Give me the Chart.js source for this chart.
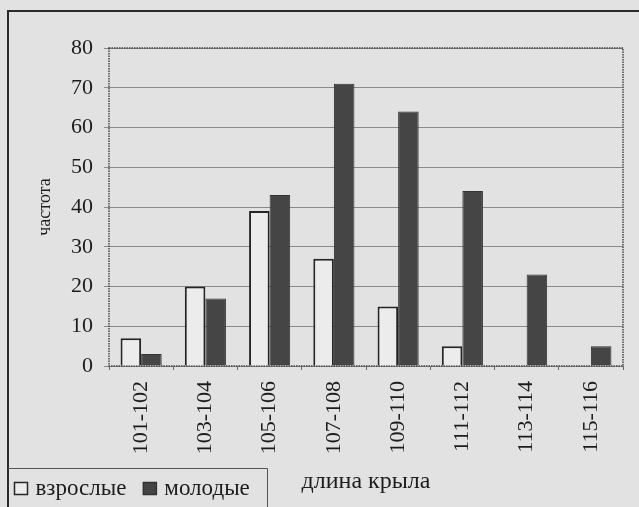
<!DOCTYPE html>
<html>
<head>
<meta charset="utf-8">
<script src="https://cdn.jsdelivr.net/npm/chart.js@4.4.0/dist/chart.umd.min.js"></script>
<style>
    html, body { margin: 0; padding: 0; background: #e2e2e2; }
    #wingChart { display: block; }
</style>
</head>
<body>
<canvas id="wingChart" width="639" height="507"></canvas>
<script>
// wing length classes and counts
const wingLengths = ['101-102', '103-104', '105-106', '107-108', '109-110', '111-112', '113-114', '115-116'];
const adultCounts = [7, 20, 39, 27, 15, 5, 0, 0];
const youngCounts = [3, 17, 43, 71, 64, 44, 23, 5];
const seriesNames = ['взрослые', 'молодые'];
const yTitle = 'частота';
const xTitle = 'длина крыла';

const paperColor = '#e2e2e2';
const textColor = '#1c1c1c';
const serif = '"Liberation Serif", "DejaVu Serif", serif';

// background, outer frame, dotted plot border and the boxed legend
const paperPlugin = {
    id: 'paper',
    beforeDraw(chart) {
        const c = chart.ctx;
        c.save();
        c.fillStyle = paperColor;
        c.fillRect(0, 0, chart.width, chart.height);
        c.strokeStyle = '#2a2a2a';
        c.lineWidth = 2;
        c.beginPath();
        c.moveTo(8, chart.height);
        c.lineTo(8, 11);
        c.lineTo(chart.width, 11);
        c.stroke();
        c.restore();
    },
    beforeDatasetsDraw(chart) {
        const a = chart.chartArea;
        const c = chart.ctx;
        c.save();
        c.strokeStyle = '#444';
        c.lineWidth = 1.5;
        c.setLineDash([1.5, 1]);
        c.strokeRect(a.left, a.top, a.right - a.left, a.bottom - a.top);
        c.restore();
    },
    afterDraw(chart) {
        const c = chart.ctx;
        c.save();
        // legend box
        c.strokeStyle = '#555';
        c.lineWidth = 1;
        c.beginPath();
        c.moveTo(8, 468.5);
        c.lineTo(267.5, 468.5);
        c.lineTo(267.5, chart.height);
        c.stroke();

        c.font = '23px ' + serif;
        c.textBaseline = 'alphabetic';
        let x = 14.5;
        const y = 482.5;
        chart.data.datasets.forEach((ds) => {
            c.fillStyle = ds.backgroundColor;
            c.fillRect(x, y, 13, 12);
            c.strokeStyle = ds.borderColor;
            c.lineWidth = 1.5;
            c.strokeRect(x, y, 13, 12);
            c.fillStyle = textColor;
            c.fillText(ds.label, x + 21, y + 12);
            x += 21 + c.measureText(ds.label).width + 17;
        });
        c.restore();
    }
};

const ctx = document.getElementById('wingChart').getContext('2d');
const wingChart = new Chart(ctx, {
    type: 'bar',
    data: {
        labels: wingLengths,
        datasets: [{
            label: seriesNames[0],
            data: adultCounts,
            backgroundColor: '#ececec',
            borderColor: '#262626',
            borderWidth: 2,
            borderSkipped: 'bottom'
        }, {
            label: seriesNames[1],
            data: youngCounts,
            backgroundColor: '#454545',
            borderColor: '#333',
            borderWidth: 1,
            borderSkipped: 'bottom'
        }]
    },
    options: {
        responsive: false,
        animation: false,
        layout: {
            padding: { left: 0, right: 16, top: 48, bottom: 0 }
        },
        plugins: {
            legend: { display: false },
            tooltip: { enabled: false }
        },
        datasets: {
            bar: { categoryPercentage: 0.64, barPercentage: 1 }
        },
        scales: {
            x: {
                afterFit: (scale) => { scale.height = 141; },
                grid: {
                    offset: true,
                    drawOnChartArea: false,
                    color: '#666',
                    tickLength: 4
                },
                border: { display: false },
                ticks: {
                    minRotation: 90,
                    maxRotation: 90,
                    padding: 11,
                    color: textColor,
                    font: { family: serif, size: 22 }
                },
                title: {
                    display: true,
                    text: xTitle,
                    color: textColor,
                    font: { family: serif, size: 24 },
                    padding: { top: 0, bottom: 11 }
                }
            },
            y: {
                min: 0,
                max: 80,
                afterFit: (scale) => { scale.width = 109; },
                grid: {
                    color: '#8a8a8a',
                    lineWidth: 1,
                    tickLength: 5
                },
                border: { display: false },
                ticks: {
                    stepSize: 10,
                    padding: 11,
                    color: textColor,
                    font: { family: serif, size: 22 }
                },
                title: {
                    display: true,
                    text: yTitle,
                    color: textColor,
                    font: { family: serif, size: 18 },
                    padding: { top: 34, bottom: 0 }
                }
            }
        }
    },
    plugins: [paperPlugin]
});
</script>
</body>
</html>
